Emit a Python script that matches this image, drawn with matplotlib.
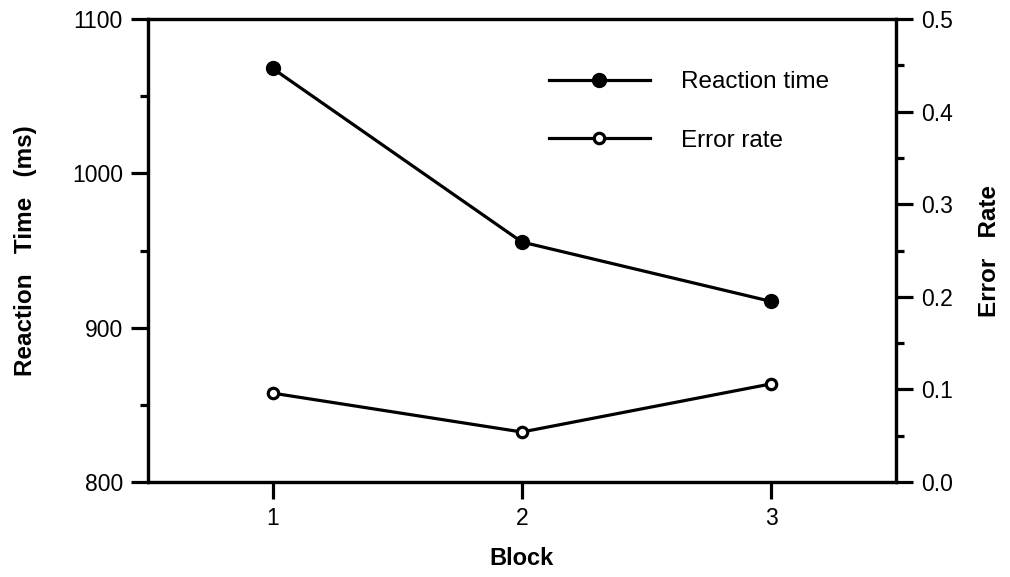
import matplotlib.pyplot as plt
from matplotlib.ticker import MultipleLocator

plt.rcParams['font.family'] = ['Liberation Sans', 'DejaVu Sans']

blocks = [1, 2, 3]
reaction_time = [1068, 955.5, 917]
error_rate = [0.096, 0.054, 0.106]

LW = 2.3

fig = plt.figure(figsize=(10.1, 5.77), dpi=100)
ax = fig.add_axes([0.1465, 0.1646, 0.7405, 0.8025])
ax2 = ax.twinx()

l1, = ax.plot(blocks, reaction_time, color='black', lw=LW, marker='o',
              markersize=10, markerfacecolor='black', label='Reaction time')
l2, = ax2.plot(blocks, error_rate, color='black', lw=LW, marker='o',
               markersize=7.5, markerfacecolor='white', markeredgewidth=2.3,
               label='Error rate')

ax.set_xlim(0.5, 3.5)
ax.set_ylim(800, 1100)
ax2.set_ylim(0, 0.5)

ax.set_xticks(blocks)
ax.yaxis.set_major_locator(MultipleLocator(100))
ax.yaxis.set_minor_locator(MultipleLocator(50))
ax2.yaxis.set_major_locator(MultipleLocator(0.1))
ax2.yaxis.set_minor_locator(MultipleLocator(0.05))
ax2.yaxis.set_major_formatter(lambda v, p: f"{v:.1f}")

for a in (ax, ax2):
    for s in a.spines.values():
        s.set_linewidth(LW)
    a.tick_params(which='major', direction='out', length=12, width=LW,
                  labelsize=16.5, pad=6)
    a.tick_params(which='minor', direction='out', length=6, width=LW)
ax.tick_params(axis='x', which='major', length=12, pad=6)

ax.set_xlabel('Block', fontsize=17, fontweight='bold', labelpad=12)
ax.set_ylabel('Reaction   Time   (ms)', fontsize=17.5, fontweight='bold',
              labelpad=25)
ax2.set_ylabel('Error   Rate', fontsize=17.5, fontweight='bold', labelpad=18,
               rotation=90)

ax2.legend([l1, l2], ['Reaction time', 'Error rate'], loc='upper left',
           bbox_to_anchor=(0.523, 0.908), frameon=False, fontsize=17.5,
           handlelength=4.15, handletextpad=1.3, labelspacing=1.5,
           borderaxespad=0)

fig.savefig('out.png', dpi=100)
